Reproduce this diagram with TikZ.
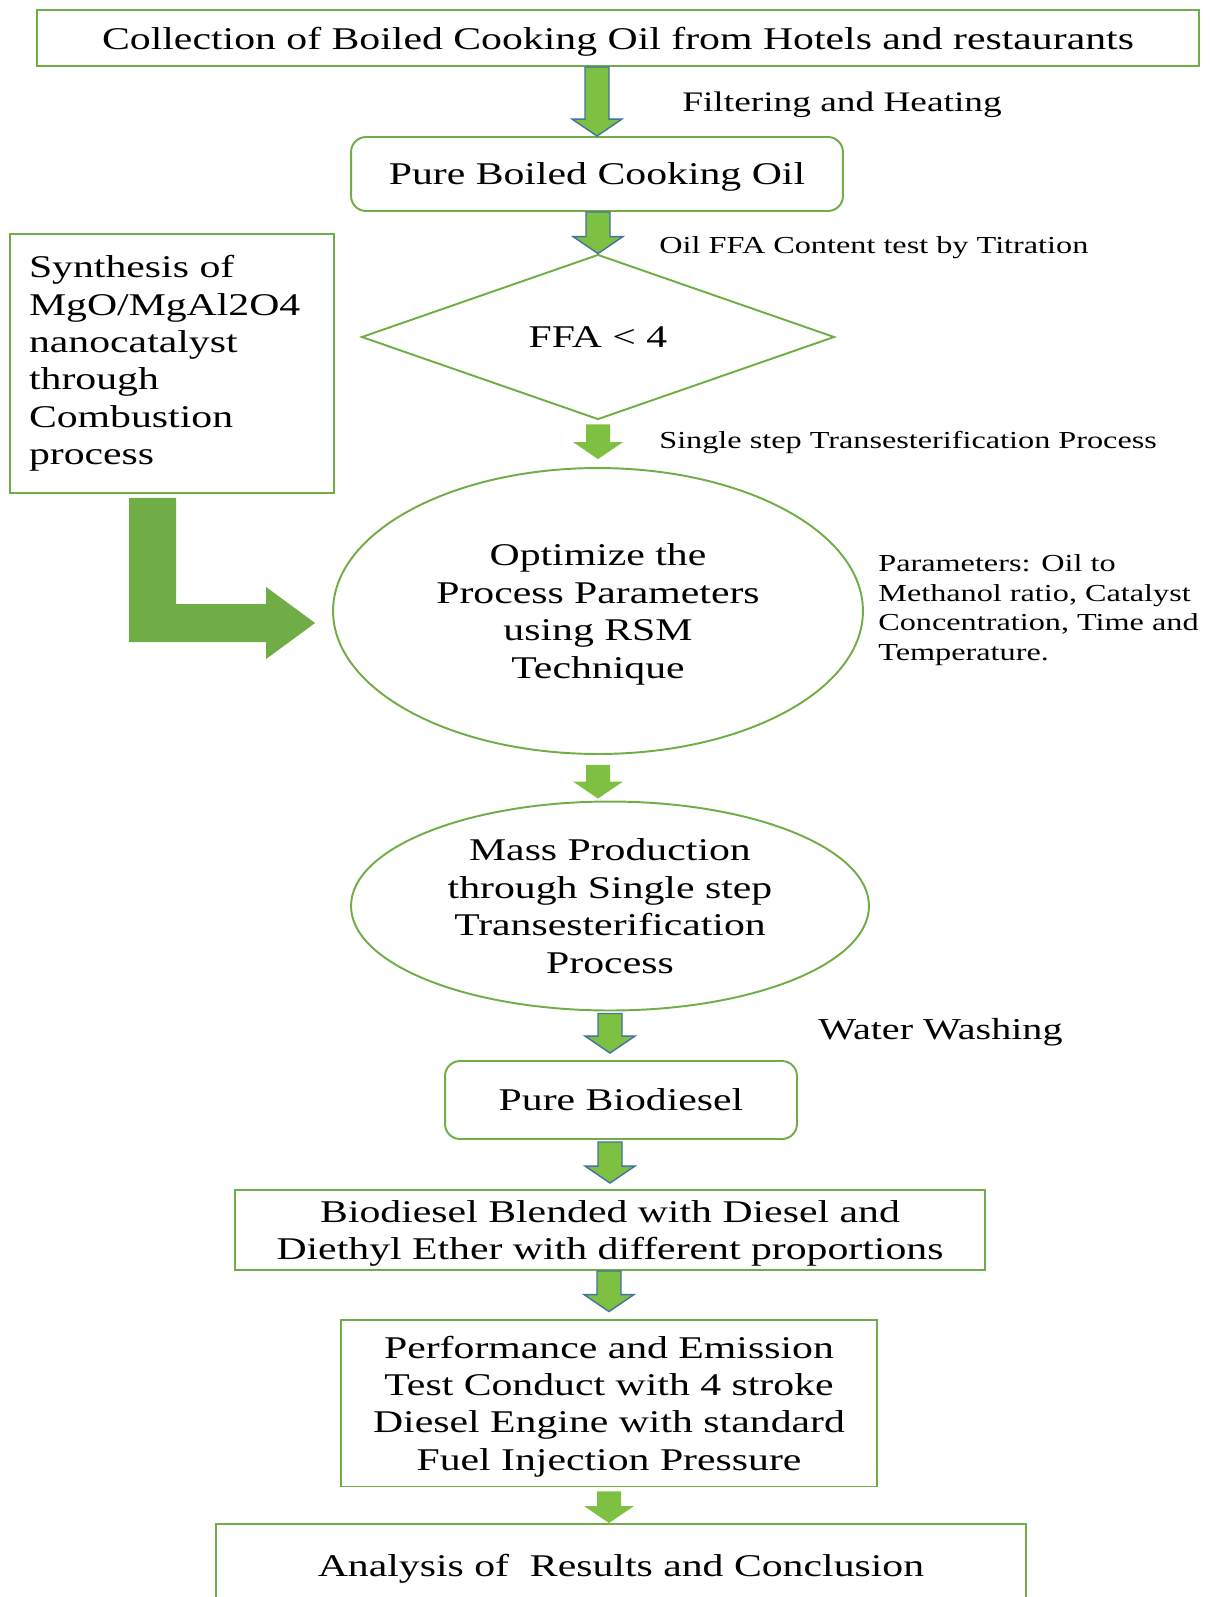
\documentclass[tikz,border=0pt]{standalone}
\usepackage{fontspec}
\setmainfont{Liberation Serif}[FakeStretch=1.32]
\usetikzlibrary{calc,shapes.geometric}
\definecolor{boxgreen}{RGB}{112,173,71}
\definecolor{arrowgreen}{RGB}{125,192,66}
\definecolor{arrowblue}{RGB}{68,114,160}

\begin{document}
\begin{tikzpicture}[x=0.02cm,y=-0.02cm]
  \tikzstyle{box}=[draw=boxgreen,line width=1.1pt,align=center,inner sep=0pt,text depth=0pt,font=\fontsize{18}{21.3}\selectfont]
  \tikzstyle{lbl}=[anchor=west,inner sep=0pt,text depth=0pt,font=\fontsize{13.9}{16.8}\selectfont]
  \tikzstyle{blk}=[fill=arrowgreen,draw=none,to path={let \p1=(\tikztostart),\p2=(\tikztotarget) in
    (\x2-0.24cm,\y1) -- (\x2+0.24cm,\y1) -- (\x2+0.24cm,\y2+0.34cm) -- (\x2+0.5cm,\y2+0.34cm)
    -- (\x2,\y2) -- (\x2-0.5cm,\y2+0.34cm) -- (\x2-0.24cm,\y2+0.34cm) -- cycle}]
  \tikzstyle{blkline}=[blk,draw=arrowblue,line width=0.8pt]
  \tikzstyle{bigarr}=[fill=boxgreen,draw=none,to path={let \p1=(\tikztostart),\p2=(\tikztotarget) in
    (\x1-0.94cm,\y1) -- (\x1,\y1) -- (\x1,\y2+0.38cm) -- (\x2-0.98cm,\y2+0.38cm) -- (\x2-0.98cm,\y2+0.72cm)
    -- (\x2,\y2) -- (\x2-0.98cm,\y2-0.72cm) -- (\x2-0.98cm,\y2-0.38cm) -- (\x1-0.94cm,\y2-0.38cm) -- cycle}]
  \useasboundingbox (0,0) rectangle (1211,1597);
  \clip (0,0) rectangle (1211,1597);

  % main column
  \node[box,minimum width=23.24cm,minimum height=1.12cm] (top) at (618,38)
    {Collection of Boiled Cooking Oil from Hotels and restaurants};
  \node[box,rounded corners=0.3cm,minimum width=9.84cm,minimum height=1.48cm] (pure) at (597,174)
    {Pure Boiled Cooking Oil};
  \node[box,diamond,minimum width=9.46cm,minimum height=3.3cm] (ffa) at (598,337) {FFA < 4};
  \node[box,ellipse,minimum width=10.6cm,minimum height=5.72cm] (opt) at (598,611)
    {Optimize the\\Process Parameters\\using RSM\\Technique};
  \node[box,ellipse,minimum width=10.36cm,minimum height=4.18cm] (mass) at (610,906)
    {Mass Production\\through Single step\\Transesterification\\Process};
  \node[box,rounded corners=0.3cm,minimum width=7.04cm,minimum height=1.56cm] (bio) at (621,1100)
    {Pure Biodiesel};
  \node[box,minimum width=15cm,minimum height=1.6cm] (blend) at (610,1230)
    {Biodiesel Blended with Diesel and\\Diethyl Ether with different proportions};
  \node[box,minimum width=10.74cm,minimum height=3.34cm] (perf) at (609,1403)
    {Performance and Emission\\Test Conduct with 4 stroke\\Diesel Engine with standard\\Fuel Injection Pressure};
  \node[box,minimum width=16.22cm,minimum height=1.64cm] (res) at (621,1565)
    {Analysis of\ \ Results and Conclusion};

  % catalyst box on the left
  \node[box,align=left,text depth=,text width=5.72cm,inner xsep=0.38cm,minimum height=5.18cm] (synth) at (172,363.5)
    {Synthesis of\\MgO/MgAl2O4\\nanocatalyst\\through\\Combustion\\process};

  % side notes
  \node[lbl,font=\fontsize{16.1}{19}\selectfont] (filt) at (682,102) {Filtering and Heating};
  \node[lbl] (titr) at (659,245) {Oil FFA Content test by Titration};
  \node[lbl] (trans) at (659,440) {Single step Transesterification Process};
  \node[lbl,align=left] (param) at (878,607.5)
    {Parameters: Oil to\\Methanol ratio, Catalyst\\Concentration, Time and\\Temperature.};
  \node[lbl,font=\fontsize{17.3}{20}\selectfont] (wash) at (818,1029) {Water Washing};

  % block arrows
  \draw[blkline] (top.south) to (pure.north);
  \draw[blkline] (pure.south) to (ffa.north);
  \draw[blk] ([yshift=-0.08cm]ffa.south) to ([yshift=0.16cm]opt.north);
  \draw[blk] ([yshift=-0.2cm]opt.south) to ($(opt.south |- mass.north)+(0,-2)$);
  \draw[blkline] ([yshift=-0.04cm]mass.south) to ($(mass.south |- bio.north)+(0,-7)$);
  \draw[blkline] ([yshift=-0.04cm]bio.south) to ($(blend.north)+(0,-6)$);
  \draw[blkline] (blend.south) to ($(perf.north)+(0,-7)$);
  \draw[blk] ([yshift=-0.08cm]perf.south) to (perf.south |- res.north);
  \draw[bigarr] ([xshift=0.08cm,yshift=-0.08cm]synth.south) to ([xshift=-0.34cm,yshift=-0.24cm]opt.west);
\end{tikzpicture}
\end{document}
